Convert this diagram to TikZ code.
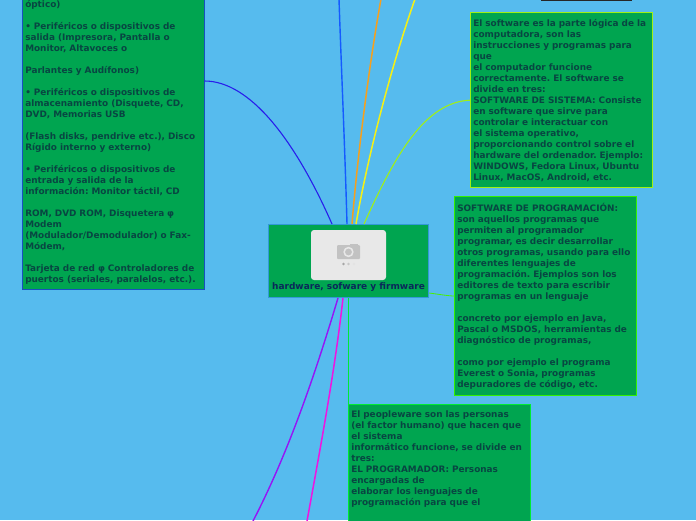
\documentclass[tikz,border=0pt]{standalone}
\usepackage{fontspec}
\setmainfont{DejaVu Sans}
\usetikzlibrary{calc}
\definecolor{mmsky}{RGB}{86,187,238}
\definecolor{mmgreen}{RGB}{0,165,80}
\definecolor{mmtext}{RGB}{8,70,66}
\definecolor{mmnavy}{RGB}{10,40,90}
\definecolor{mmhub}{RGB}{51,153,214}
\definecolor{mmindigo}{RGB}{40,30,235}
\definecolor{mmedge}{RGB}{25,80,190}
\definecolor{mmblue}{RGB}{20,90,255}
\definecolor{mmorange}{RGB}{245,160,30}
\definecolor{mmyellow}{RGB}{245,240,20}
\definecolor{mmlime}{RGB}{160,240,20}
\definecolor{mmleaf}{RGB}{50,240,0}
\definecolor{mmpurple}{RGB}{150,20,245}
\definecolor{mmpink}{RGB}{240,20,225}
\definecolor{mmlawn}{RGB}{0,235,50}
\tikzset{
  leafbox/.style={draw=#1, fill=mmgreen, line width=1pt, anchor=north west, text width=176pt,
    inner xsep=2.75pt, inner ysep=6.5pt, align=left, font=\frenchspacing\bfseries\fontsize{8.9}{11}\selectfont, text=mmtext},
  branch/.style={line width=#1}
}
\begin{document}
\begin{tikzpicture}[x=1pt, y=-1pt]
\useasboundingbox (0,0) rectangle (696,520);
\clip (0,0) rectangle (696,520);
\fill[mmsky] (0,0) rectangle (696,520);
% Central topic
\node[draw=mmhub, fill=mmgreen, line width=1pt, minimum width=160pt, minimum height=73pt, inner sep=0pt] (hub) at (348.5,261) {};
\node[text=mmnavy, font=\bfseries\fontsize{9}{11}\selectfont, inner sep=0pt] (hubtext) at (348.5,287.5) {hardware, sofware y firmware};
% Picture placeholder
\node[fill=black!9, rounded corners=3pt, minimum width=75pt, minimum height=50pt, inner sep=0pt] (photo) at (348.5,255) {};
\fill[black!24, rounded corners=1pt] (337,245) rectangle (360,259);
\fill[black!24] (350,243.5) rectangle (358,246);
\fill[black!9] (348.5,252) circle (5.2);
\fill[black!24] (348.5,252) circle (3.4);
\foreach \x/\c in {343.5/black!35, 348.5/black!22, 354/black!11} {
  \fill[\c] (\x,264) circle (1.3);
}
% Boxes
\node[leafbox=mmlime] (softbox) at (470,12) {El software es la parte lógica de la\\computadora, son las\\instrucciones y programas para\\que\\el computador funcione\\correctamente. El software se\\divide en tres:\\SOFTWARE DE SISTEMA: Consiste\\en software que sirve para\\controlar e interactuar con\\el sistema operativo,\\proporcionando control sobre el\\hardware del ordenador. Ejemplo:\\WINDOWS, Fedora Linux, Ubuntu\\Linux, MacOS, Android, etc.};
\node[leafbox=mmleaf] (progbox) at (454,196) {SOFTWARE DE PROGRAMACIÓN:\\son aquellos programas que\\permiten al programador\\programar, es decir desarrollar\\otros programas, usando para ello\\diferentes lenguajes de\\programación. Ejemplos son los\\editores de texto para escribir\\programas en un lenguaje\\[11pt]concreto por ejemplo en Java,\\Pascal o MSDOS, herramientas de\\diagnóstico de programas,\\[11pt]como por ejemplo el programa\\Everest o Sonia, programas\\depuradores de código, etc.};
\node[leafbox=mmlawn] (peoplebox) at (348,403.5) {El peopleware son las personas\\(el factor humano) que hacen que\\el sistema\\informático funcione, se divide en\\tres:\\EL PROGRAMADOR: Personas\\encargadas de\\elaborar los lenguajes de\\programación para que el\\[60pt]\mbox{}};
\node[leafbox=mmedge, anchor=south west, inner ysep=5pt] (hardbox) at (22,290) {óptico)\\[11pt]• Periféricos o dispositivos de\\salida (Impresora, Pantalla o\\Monitor, Altavoces o\\[11pt]Parlantes y Audífonos)\\[11pt]• Periféricos o dispositivos de\\almacenamiento (Disquete, CD,\\DVD, Memorias USB\\[11pt](Flash disks, pendrive etc.), Disco\\Rígido interno y externo)\\[11pt]• Periféricos o dispositivos de\\entrada y salida de la\\información: Monitor táctil, CD\\[11pt]ROM, DVD ROM, Disquetera φ\\Modem\\(Modulador/Demodulador) o Fax-\\Módem,\\[11pt]Tarjeta de red φ Controladores de\\puertos (seriales, paralelos, etc.).};
\node[draw=black!85, fill=mmgreen, line width=1pt, minimum width=90pt, minimum height=20pt, anchor=south] (topbox) at (586,1) {};
% Free ends of the branches
\coordinate (upblue) at (339,-1);
\coordinate (uporange) at (381,-1);
\coordinate (upyellow) at (415,-1);
\coordinate (downpurple) at (253,521);
\coordinate (downpink) at (307,521);
% Branches
\draw[mmindigo, branch=1.1pt] ($(hardbox.south east)+(0,-209)$) .. controls (250,81) and (295,140) .. ($(hub.north)+(-16.5,0)$);
\draw[mmblue, branch=1.4pt] (upblue) .. controls (341,60) and (345,150) .. ($(hub.north)+(-1.5,0)$);
\draw[mmorange, branch=1.5pt] (uporange) .. controls (370,60) and (358,150) .. ($(hub.north)+(3.5,0)$);
\draw[mmyellow, branch=1.5pt] (upyellow) .. controls (390,70) and (367,160) .. ($(hub.north)+(7.5,0)$);
\draw[mmlime, branch=1.1pt] (softbox.west) .. controls (425,102) and (395,155) .. ($(hub.north)+(15.5,0)$);
\draw[mmleaf!80!mmlime, branch=0.8pt] ($(hub.east)+(0,32)$) .. controls (437,294) and (445,295.5) .. (progbox.west);
\draw[mmpurple, branch=1.4pt] ($(hub.south)+(-10.5,0)$) .. controls (318,365) and (290,450) .. (downpurple);
\draw[mmpink, branch=1.5pt] ($(hub.south)+(-5.5,0)$) .. controls (335,370) and (320,450) .. (downpink);
\draw[mmlawn, branch=1.5pt] (hub.south) -- ($(peoplebox.north west)+(0.5,0)$);
\end{tikzpicture}
\end{document}
